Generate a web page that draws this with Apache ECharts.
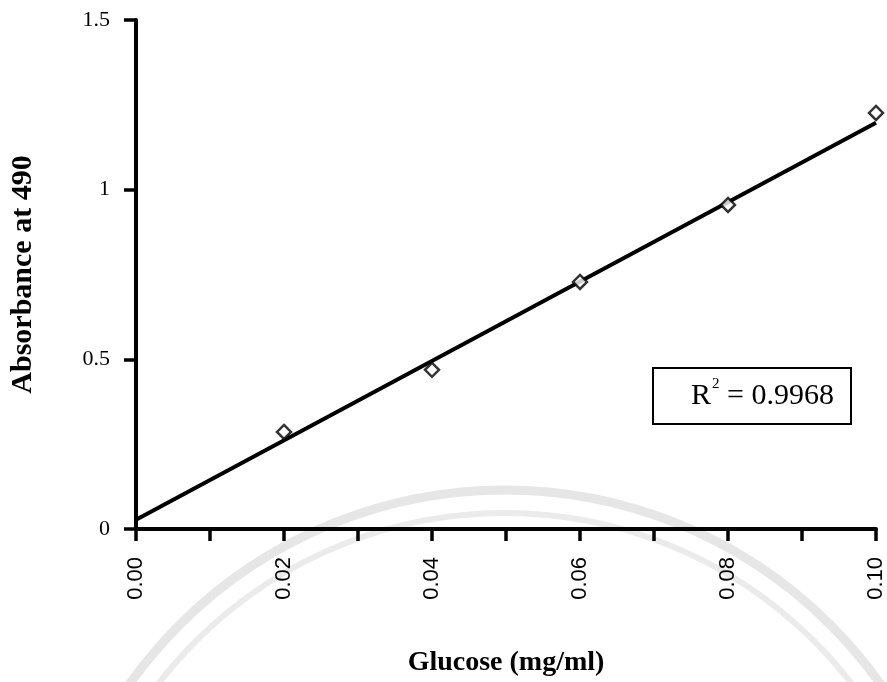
<!DOCTYPE html>
<html>
<head>
<meta charset="utf-8">
<script src="https://cdn.jsdelivr.net/npm/echarts@6/dist/echarts.min.js"></script>
<style>
html,body{margin:0;padding:0;background:#fff;}
#chart{width:887px;height:682px;}
</style>
</head>
<body>
<div id="chart"></div>
<script>
// Data
const glucose = [0.02, 0.04, 0.06, 0.08, 0.10];
const absorbance = [0.286, 0.469, 0.728, 0.955, 1.226];
const trendX = [0.00, 0.10];
const trendY = [0.027, 1.197];
const yTickLabels = ['0', '0.5', '1', '1.5'];
const xAxisTitle = 'Glucose (mg/ml)';
const yAxisTitle = 'Absorbance at 490';
const r2Value = '0.9968';

const chart = echarts.init(document.getElementById('chart'), null, {renderer: 'canvas'});

const serif = '"Liberation Serif", "DejaVu Serif", serif';
const sans = '"Liberation Sans", Arial, sans-serif';

const option = {
  backgroundColor: '#ffffff',
  animation: false,
  grid: {left: 133, right: 10, top: 20, bottom: 153, containLabel: false},
  xAxis: {
    type: 'value',
    min: 0,
    max: 0.1,
    interval: 0.01,
    name: xAxisTitle,
    nameLocation: 'middle',
    nameGap: 120,
    nameTextStyle: {fontFamily: serif, fontWeight: 'bold', fontSize: 28, color: '#000'},
    axisLine: {show: true, onZero: false, lineStyle: {color: '#000', width: 4}},
    axisTick: {show: true, length: 12, lineStyle: {color: '#000', width: 3.5}},
    splitLine: {show: false},
    axisLabel: {
      rotate: 90,
      margin: 28,
      fontFamily: sans,
      fontSize: 22,
      color: '#000',
      formatter: function (v) {
        const k = Math.round(v * 100);
        return k % 2 === 0 ? (k / 100).toFixed(2) : '';
      }
    }
  },
  yAxis: {
    type: 'value',
    min: 0,
    max: 1.5,
    interval: 0.5,
    name: yAxisTitle,
    nameLocation: 'middle',
    nameRotate: 90,
    nameGap: 98,
    nameTextStyle: {fontFamily: serif, fontWeight: 'bold', fontSize: 30, color: '#000'},
    axisLine: {show: true, onZero: false, lineStyle: {color: '#000', width: 4}},
    axisTick: {show: true, length: 12, lineStyle: {color: '#000', width: 3.5}},
    splitLine: {show: false},
    axisLabel: {
      margin: 26,
      fontFamily: serif,
      fontSize: 22,
      color: '#000',
      formatter: function (v) {
        const idx = Math.round(v / 0.5);
        return yTickLabels[idx] !== undefined ? yTickLabels[idx] : '';
      }
    }
  },
  graphic: [
    {
      type: 'arc', z: -10, silent: true,
      shape: {cx: 505, cy: 950, r: 460, startAngle: Math.PI, endAngle: 2 * Math.PI},
      style: {stroke: '#e6e6e6', lineWidth: 9, fill: null}
    },
    {
      type: 'arc', z: -10, silent: true,
      shape: {cx: 505, cy: 950, r: 437, startAngle: Math.PI, endAngle: 2 * Math.PI},
      style: {stroke: '#ebebeb', lineWidth: 6, fill: null}
    },
    {
      type: 'group',
      left: 652,
      top: 367,
      children: [
        {
          type: 'rect',
          shape: {x: 0, y: 0, width: 198, height: 56},
          style: {fill: '#fff', stroke: '#000', lineWidth: 2}
        },
        {
          type: 'text',
          x: 38,
          y: 28,
          style: {
            text: '{r|R}{s|2}{t| = ' + r2Value + '}',
            verticalAlign: 'middle',
            rich: {
              r: {fontFamily: serif, fontSize: 30, fill: '#000'},
              s: {fontFamily: serif, fontSize: 15, fill: '#000', verticalAlign: 'top', padding: [0, 0, 24, 1]},
              t: {fontFamily: serif, fontSize: 30, fill: '#000'}
            }
          }
        }
      ]
    }
  ],
  series: [
    {
      type: 'line',
      data: trendX.map((x, i) => [x, trendY[i]]),
      showSymbol: false,
      symbol: 'none',
      lineStyle: {color: '#000', width: 4},
      z: 2,
      silent: true
    },
    {
      type: 'scatter',
      data: glucose.map((x, i) => [x, absorbance[i]]),
      symbol: 'diamond',
      symbolSize: 14,
      itemStyle: {color: '#ffffff', borderColor: '#000', borderWidth: 2.5},
      z: 3,
      silent: true
    }
  ]
};
chart.setOption(option);
</script>
</body>
</html>
